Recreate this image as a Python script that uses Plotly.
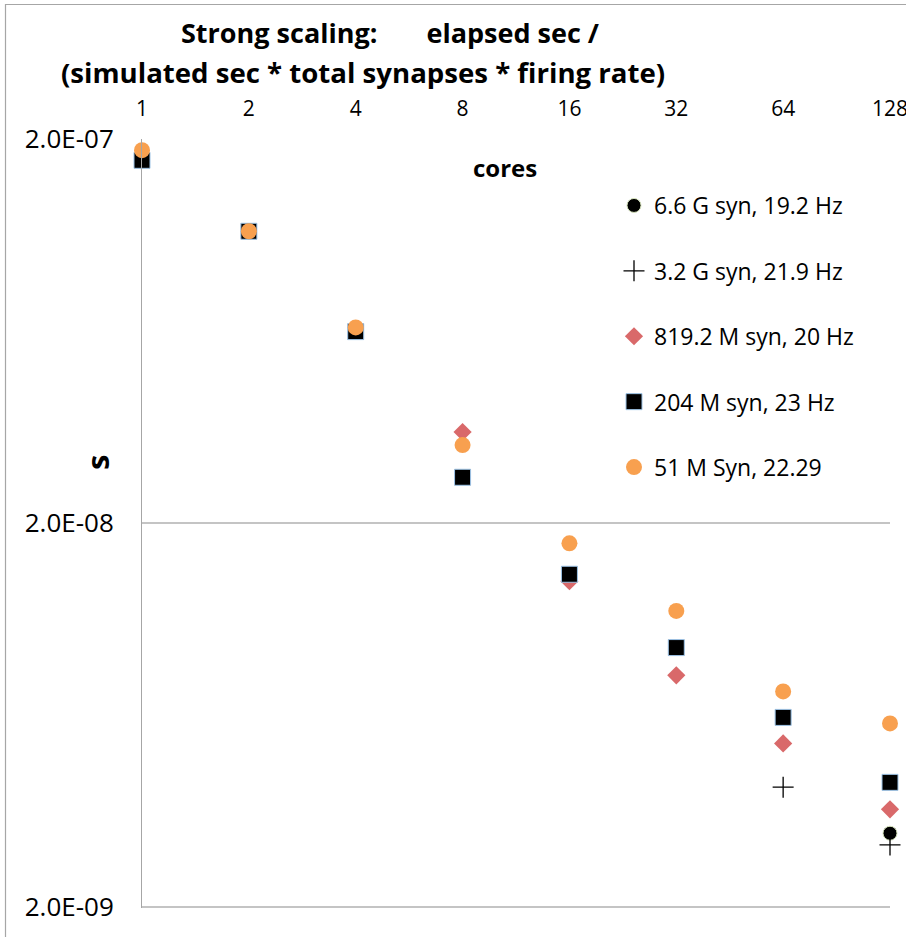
import plotly.graph_objects as go
import math

cores = [1, 2, 4, 8, 16, 32, 64, 128]
tick_labels = ["1", "2", "4", "8", "16", "32", "64", "128"]

syn_6_6G = [None, None, None, None, None, None, None, 3.11e-9]
syn_3_2G = [None, None, None, None, None, None, 4.10e-9, 2.90e-9]
syn_819M = [None, None, None, 3.45e-8, 1.41e-8, 8.02e-9, 5.33e-9, 3.59e-9]
syn_204M = [1.76e-7, 1.15e-7, 6.30e-8, 2.63e-8, 1.47e-8, 9.47e-9, 6.23e-9, 4.22e-9]
syn_51M = [1.87e-7, 1.15e-7, 6.46e-8, 3.19e-8, 1.77e-8, 1.18e-8, 7.28e-9, 6.01e-9]

series_names = ["6.6 G syn, 19.2 Hz", "3.2 G syn, 21.9 Hz", "819.2 M syn, 20 Hz",
                "204 M syn, 23 Hz", "51 M Syn, 22.29"]

y_ticks = [2e-9, 2e-8, 2e-7]
y_tick_labels = ["2.0E-09", "2.0E-08", "2.0E-07"]

title_line1 = "Strong scaling:" + "\u00a0" * 7 + "elapsed sec /"
title_line2 = "(simulated sec * total synapses * firing rate)"

FONT = "Open Sans"
W, H = 906, 937
# plot-area edges in pixels
PL, PR, PT, PB = 142, 890, 139, 908


def px(x):
    return x / W


def py(y):
    return 1 - y / H


styles = [
    dict(symbol="circle", size=14, color="black", line=dict(color="#D7E4BD", width=1)),
    dict(symbol="cross-thin", size=15, color="black", line=dict(color="black", width=1.3)),
    dict(symbol="diamond", size=14, color="#D9696A", line=dict(color="#D9696A", width=0)),
    dict(symbol="square", size=16, color="black", line=dict(color="#9DC3E6", width=1)),
    dict(symbol="circle", size=16, color="#F8A04F", line=dict(color="#F8A04F", width=0)),
]
data = [syn_6_6G, syn_3_2G, syn_819M, syn_204M, syn_51M]

fig = go.Figure()

# outer chart-area frame (only its top and left edges are inside the picture)
fig.add_trace(go.Scatter(
    x=[5.5, 5.5, W + 10], y=[H + 10, 4.5, 4.5], mode="lines",
    line=dict(color="#A6A6A6", width=1.2), xaxis="x2", yaxis="y2",
    showlegend=False, hoverinfo="skip",
))

for i, (name, vals, st) in enumerate(zip(series_names, data, styles)):
    fig.add_trace(go.Scatter(
        x=cores, y=vals, mode="markers", name=name, marker=st,
        cliponaxis=False, legendgroup="g%d" % i,
    ))

ylo = math.log10(y_ticks[0]) - 0.003
yhi = math.log10(y_ticks[-1]) + 1e-5

fig.update_layout(
    width=W, height=H,
    margin=dict(l=0, r=0, t=0, b=0, pad=0, autoexpand=False),
    paper_bgcolor="white", plot_bgcolor="rgba(0,0,0,0)",
    font=dict(family=FONT, color="black"),
    xaxis=dict(
        type="log", side="top", automargin=False,
        domain=[px(PL), px(PR)], anchor="y",
        range=[0, math.log10(cores[-1]) + 1e-6],
        tickvals=cores, ticktext=tick_labels,
        tickfont=dict(family=FONT, size=21, color="black"),
        showgrid=False, showline=False, zeroline=False, ticks="",
        ticklabelstandoff=18, ticklabeloverflow="allow",
    ),
    yaxis=dict(
        type="log", automargin=False,
        domain=[py(PB), py(PT)], anchor="x",
        range=[ylo, yhi],
        tickvals=y_ticks, ticktext=y_tick_labels,
        tickfont=dict(family=FONT, size=26, color="black"),
        showgrid=True, gridcolor="#C4C4C4", gridwidth=1.5,
        showline=True, linecolor="#A6A6A6", linewidth=1,
        zeroline=False, ticks="",
        ticklabelstandoff=22, ticklabeloverflow="allow",
    ),
    xaxis2=dict(domain=[0, 1], range=[0, W], visible=False, anchor="y2", fixedrange=True),
    yaxis2=dict(domain=[0, 1], range=[H, 0], visible=False, anchor="x2", fixedrange=True),
    legend=dict(
        x=px(614), xanchor="left",
        y=py(184), yanchor="top",
        bgcolor="rgba(0,0,0,0)",
        font=dict(family=FONT, size=23, color="black"),
        tracegroupgap=32.5,
        itemwidth=30,
    ),
    showlegend=True,
)

# chart title (two lines, positioned as in the original)
fig.add_annotation(text="<b>" + title_line1 + "</b>", xref="paper", yref="paper",
                   x=px(390), y=py(32),
                   showarrow=False, font=dict(family=FONT, size=27, color="black"),
                   xanchor="center", yanchor="middle")
fig.add_annotation(text="<b>" + title_line2 + "</b>", xref="paper", yref="paper",
                   x=px(363), y=py(72),
                   showarrow=False, font=dict(family=FONT, size=27.6, color="black"),
                   xanchor="center", yanchor="middle")

fig.add_annotation(text="<b>cores</b>", xref="paper", yref="paper",
                   x=px(505), y=py(168),
                   showarrow=False, font=dict(family=FONT, size=24, color="black"),
                   xanchor="center", yanchor="middle")
fig.add_annotation(text="<b>s</b>", xref="paper", yref="paper",
                   x=px(97), y=py(463), textangle=-90,
                   showarrow=False, font=dict(family=FONT, size=31, color="black"),
                   xanchor="center", yanchor="middle")

fig.write_html("out.html")
